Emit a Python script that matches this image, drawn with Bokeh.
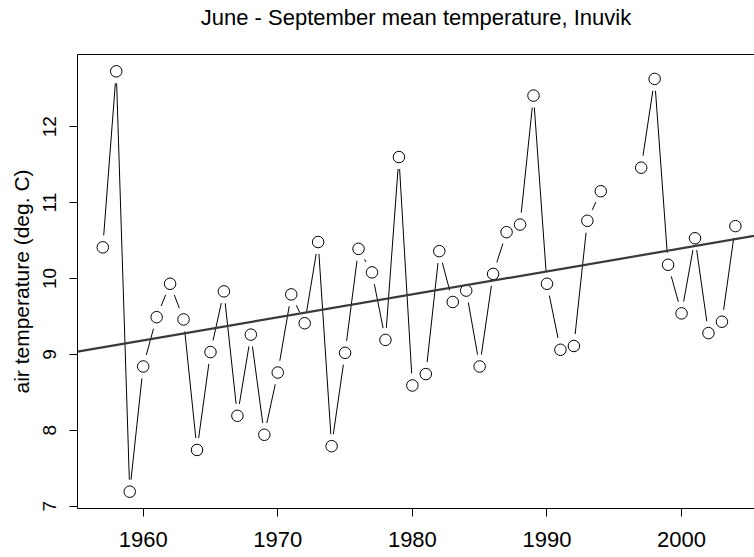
import numpy as np
from bokeh.plotting import figure
from bokeh.models import Range1d, FixedTicker, ColumnDataSource, LinearAxis
from bokeh.embed import file_html
from bokeh.resources import INLINE

nan = float("nan")

# ---- data ----
years = list(range(1957, 2005))
temps = [10.41, 12.73, 7.19, 8.84, 9.49, 9.93, 9.46, 7.74, 9.03, 9.83,
         8.19, 9.26, 7.94, 8.76, 9.79, 9.41, 10.48, 7.79, 9.02, 10.39,
         10.08, 9.19, 11.60, 8.59, 8.74, 10.36, 9.69, 9.84, 8.84, 10.06,
         10.61, 10.71, 12.41, 9.93, 9.06, 9.11, 10.76, 11.15, nan, nan,
         11.46, 12.63, 10.18, 9.54, 10.53, 9.28, 9.43, 10.69]
x_ticks = [1960, 1970, 1980, 1990, 2000]
y_ticks = [7, 8, 9, 10, 11, 12]
title_text = "June - September mean temperature, Inuvik"
y_label = "air temperature (deg. C)"

FONT = "Liberation Sans"

yr = np.array(years, dtype=float)
tp = np.array(temps, dtype=float)
ok = ~np.isnan(tp)

# R-style 4% padded ranges; the right edge of the reference is cropped
x_pad = 0.04 * (yr[ok].max() - yr[ok].min())
x_start = yr[ok].min() - x_pad
x_end = 2005.42
y_pad = 0.04 * (tp[ok].max() - tp[ok].min())
y_start = tp[ok].min() - y_pad
y_end = tp[ok].max() + y_pad

FW, FH = 677, 454
sx = FW / (x_end - x_start)
sy = FH / (y_end - y_start)

p = figure(frame_width=FW, frame_height=FH, output_backend="svg",
           toolbar_location=None,
           x_range=Range1d(x_start, x_end), y_range=Range1d(y_start, y_end),
           min_border_left=77, min_border_right=0, min_border_top=54,
           min_border_bottom=49)
p.background_fill_color = "white"
p.border_fill_color = "white"
p.outline_line_color = None
p.xgrid.visible = False
p.ygrid.visible = False

bottom = p.below[0]
left = p.left[0]

# axes
for ax in (bottom, left):
    ax.axis_line_color = "black"
    ax.axis_line_width = 1
    ax.major_tick_line_color = "black"
    ax.major_tick_out = 8
    ax.major_tick_in = 0
    ax.minor_tick_line_color = None
    ax.minor_tick_out = 0
    ax.minor_tick_in = 0
    ax.major_label_text_font = FONT
    ax.major_label_text_color = "black"
    ax.axis_label_text_font = FONT
    ax.axis_label_text_font_style = "normal"
    ax.axis_label_text_color = "black"

bottom.ticker = FixedTicker(ticks=x_ticks)
bottom.major_label_text_font_size = "22px"
bottom.major_label_standoff = 15

left.ticker = FixedTicker(ticks=y_ticks)
left.major_label_text_font_size = "19px"
left.major_label_orientation = "vertical"
left.major_label_standoff = 13
left.axis_label = y_label
left.axis_label_text_font_size = "21px"
left.axis_label_standoff = 8

# top edge of the box, carrying the chart title as its label
top = LinearAxis(ticker=FixedTicker(ticks=[]), axis_label=title_text)
top.axis_line_color = "black"
top.axis_line_width = 1
top.major_tick_line_color = None
top.minor_tick_line_color = None
top.major_tick_out = 0
top.major_tick_in = 0
top.minor_tick_out = 0
top.minor_tick_in = 0
top.major_label_standoff = 0
top.major_label_text_font_size = "0px"
top.axis_label_text_font = FONT
top.axis_label_text_font_size = "22px"
top.axis_label_text_font_style = "normal"
top.axis_label_text_color = "black"
top.axis_label_standoff = 25
p.add_layout(top, "above")

# connecting segments with gaps around the points (R type="b")
gap = 12
x0s, y0s, x1s, y1s = [], [], [], []
for i in range(len(yr) - 1):
    if not (ok[i] and ok[i + 1]):
        continue
    dxp = (yr[i + 1] - yr[i]) * sx
    dyp = (tp[i + 1] - tp[i]) * sy
    L = np.hypot(dxp, dyp)
    if L <= 2 * gap:
        continue
    ux, uy = dxp / L, dyp / L
    x0s.append(yr[i] + gap * ux / sx)
    y0s.append(tp[i] + gap * uy / sy)
    x1s.append(yr[i + 1] - gap * ux / sx)
    y1s.append(tp[i + 1] - gap * uy / sy)
p.segment(x0=x0s, y0=y0s, x1=x1s, y1=y1s, line_color="black", line_width=1)

# points
src = ColumnDataSource(dict(x=yr[ok], y=tp[ok]))
p.scatter("x", "y", source=src, marker="circle", size=11.5,
          fill_color="white", line_color="black", line_width=1)

# linear trend (least squares)
slope, icpt = np.polyfit(yr[ok], tp[ok], 1)
p.line([x_start, x_end], [icpt + slope * x_start, icpt + slope * x_end],
       line_color="#3a3a3a", line_width=2.2)

open("out.html", "w").write(file_html(p, INLINE))
